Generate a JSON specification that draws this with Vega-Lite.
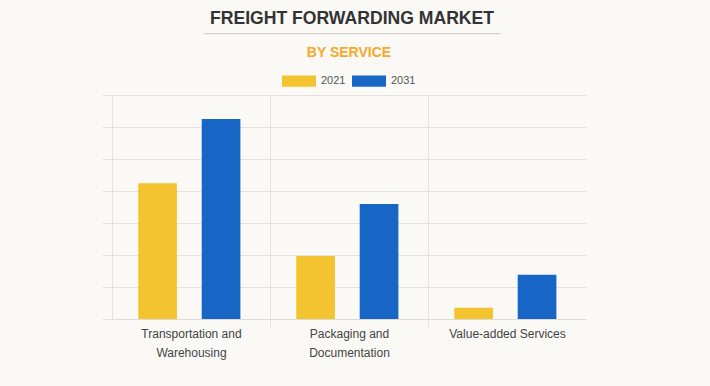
{
  "$schema": "https://vega.github.io/schema/vega-lite/v6.json",
  "width": 474,
  "height": 224,
  "autosize": {"type": "none"},
  "padding": {"left": 112, "top": 95, "right": 124, "bottom": 67},
  "background": "#FAF9F5",
  "title": {
    "text": "FREIGHT FORWARDING MARKET",
    "subtitle": "─────────────────────────────────────────",
    "anchor": "middle",
    "frame": "group",
    "dx": 3,
    "offset": 6,
    "font": "Liberation Sans",
    "fontSize": 17.6,
    "fontWeight": "bold",
    "color": "#333333",
    "subtitleFont": "DejaVu Sans",
    "subtitleFontSize": 12,
    "subtitleColor": "#cfcdc8",
    "subtitlePadding": 1
  },
  "data": {
    "values": [
      {"service": "Transportation and Warehousing", "year": "2021", "value": 4.24},
      {"service": "Transportation and Warehousing", "year": "2031", "value": 6.25},
      {"service": "Packaging and Documentation", "year": "2021", "value": 1.97},
      {"service": "Packaging and Documentation", "year": "2031", "value": 3.59},
      {"service": "Value-added Services", "year": "2021", "value": 0.35},
      {"service": "Value-added Services", "year": "2031", "value": 1.38}
    ]
  },
  "mark": {"type": "bar"},
  "encoding": {
    "x": {
      "field": "service",
      "type": "nominal",
      "sort": null,
      "scale": {"paddingInner": 0, "paddingOuter": 0},
      "axis": {
        "title": null,
        "labelAngle": 0,
        "labelFont": "Liberation Sans",
        "labelFontSize": 12,
        "labelColor": "#444444",
        "labelLineHeight": 19,
        "labelPadding": 1,
        "labelExpr": "datum.value == 'Transportation and Warehousing' ? ['Transportation and', 'Warehousing'] : datum.value == 'Packaging and Documentation' ? ['Packaging and', 'Documentation'] : datum.label",
        "tickBand": "extent",
        "ticks": true,
        "tickSize": 8,
        "tickColor": "#e4e2dd",
        "tickOpacity": {"condition": {"test": "!isValid(datum.value) || datum.value == 'Value-added Services'", "value": 0}, "value": 1},
        "grid": true,
        "gridColor": "#e4e2dd",
        "gridOpacity": {"condition": {"test": "datum.value == 'Value-added Services'", "value": 0}, "value": 1},
        "domain": true,
        "domainColor": "#dddbd6"
      }
    },
    "xOffset": {
      "field": "year",
      "type": "nominal",
      "scale": {"paddingInner": 0.39, "paddingOuter": 0.44, "align": 0.47}
    },
    "y": {
      "field": "value",
      "type": "quantitative",
      "scale": {"domain": [0, 7], "nice": false},
      "axis": {
        "title": null,
        "values": [0, 1, 2, 3, 4, 5, 6, 7],
        "labels": false,
        "domain": false,
        "ticks": true,
        "tickSize": 10,
        "tickColor": "#e4e2dd",
        "grid": true,
        "gridColor": "#e4e2dd"
      }
    },
    "color": {
      "field": "year",
      "type": "nominal",
      "scale": {"domain": ["2021", "2031"], "range": ["#F4C430", "#1766C6"]},
      "legend": {
        "title": "BY SERVICE",
        "orient": "none",
        "legendX": 170,
        "legendY": -49,
        "direction": "horizontal",
        "titleAnchor": "middle",
        "titleFont": "Liberation Sans",
        "titleFontSize": 14,
        "titleFontWeight": "bold",
        "titleColor": "#F6A82A",
        "titlePadding": 4,
        "symbolType": "M-1,-0.33L1,-0.33L1,0.33L-1,0.33Z",
        "symbolSize": 1156,
        "symbolStrokeWidth": 0,
        "symbolOpacity": 1,
        "labelFont": "Liberation Sans",
        "labelFontSize": 11,
        "labelColor": "#555555",
        "labelOffset": 5,
        "columnPadding": 6
      }
    }
  },
  "config": {
    "view": {"stroke": null}
  }
}
